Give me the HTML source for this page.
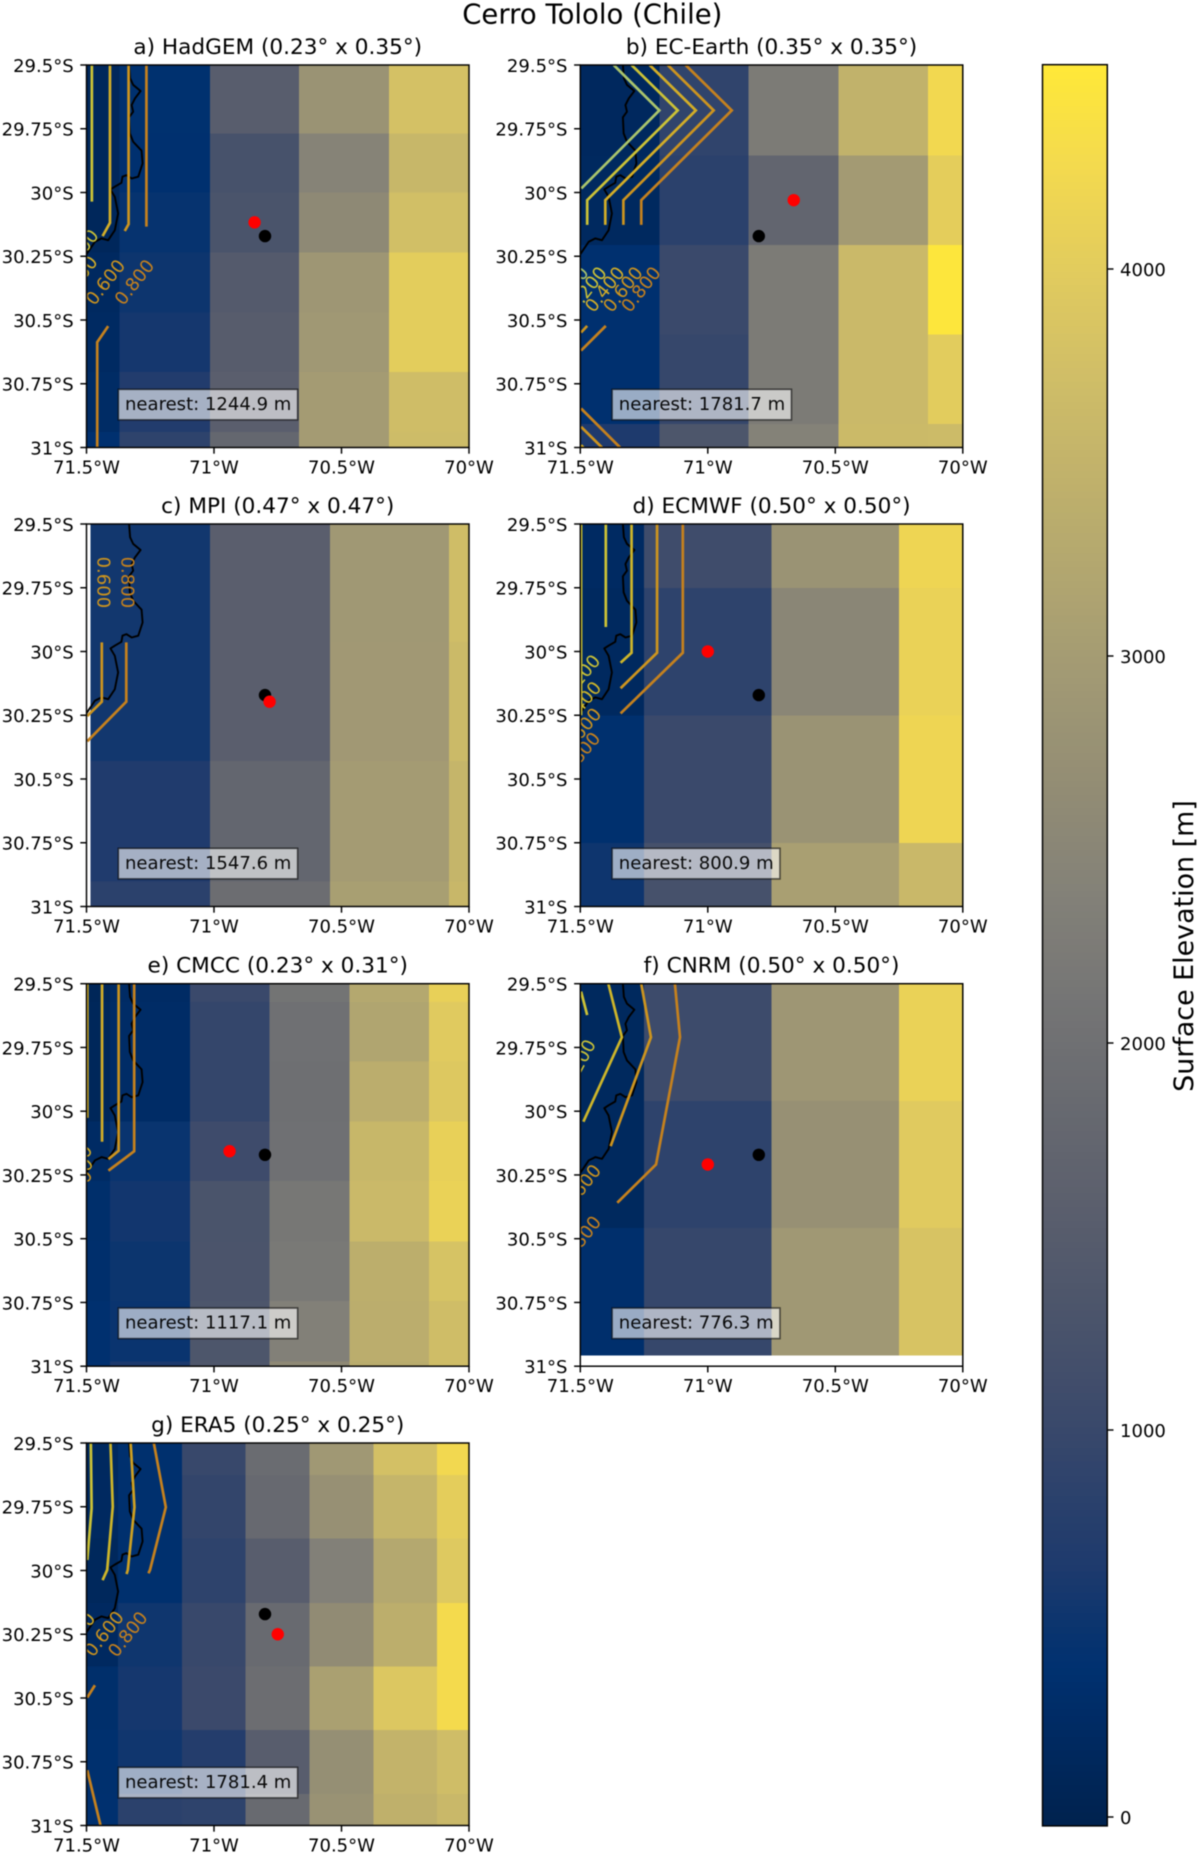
<!DOCTYPE html>
<html lang="en">
<head>
<meta charset="utf-8">
<title>Cerro Tololo (Chile) surface elevation</title>
<style>
html,body{margin:0;padding:0;background:#fff;}
svg{display:block;font-family:"DejaVu Sans","Liberation Sans",sans-serif;filter:blur(0.4px);}
</style>
</head>
<body>
<svg id="figure" xmlns="http://www.w3.org/2000/svg" width="1200" height="1856" viewBox="0 0 1200 1856">
  <rect x="0" y="0" width="1200" height="1856" fill="#ffffff"/>
  <text x="592.3" y="23.5" font-size="27.5" text-anchor="middle" fill="#000">Cerro Tololo (Chile)</text>
  <g id="panels"></g>
  <g id="colorbar"></g>
  <text transform="translate(1193,946) rotate(-90)" font-size="26.9" text-anchor="middle" fill="#000">Surface Elevation [m]</text>
</svg>
<script>
/* ---------- shared axis values ---------- */
const lonTicks = [-71.5, -71, -70.5, -70];
const lonTickLabels = ['71.5°W', '71°W', '70.5°W', '70°W'];
const latTicks = [29.5, 29.75, 30, 30.25, 30.5, 30.75, 31];
const latTickLabels = ['29.5°S', '29.75°S', '30°S', '30.25°S', '30.5°S', '30.75°S', '31°S'];
const cbarTicks = [0, 1000, 2000, 3000, 4000];
const cbarMin = -23;
const cbarMax = 4528;

/* ---------- cividis colour table ---------- */
const cmapStops = [0, .059, .09, .118, .147, .176, .235, .294, .353, .412, .47, .529, .588, .647, .706, .765, .824, .882, .941, 1];
const cmapR = [0, 0, 0, 13, 30, 39, 60, 76, 91, 104, 117, 131, 146, 160, 176, 192, 208, 225, 243, 255];
const cmapG = [34, 43, 49, 53, 58, 63, 74, 85, 95, 106, 117, 129, 140, 152, 165, 177, 190, 203, 217, 233];
const cmapB = [78, 100, 112, 110, 109, 108, 107, 107, 109, 112, 117, 120, 116, 116, 112, 107, 103, 94, 79, 56];

/* ---------- station and nearest grid point ---------- */
const stationLon = -70.80;
const stationLat = 30.171;

/* ---------- coastline ---------- */
const coastLon = [-71.333, -71.329, -71.317, -71.288, -71.310, -71.323, -71.317, -71.333, -71.330, -71.317, -71.284, -71.280, -71.297, -71.323, -71.343, -71.359, -71.363, -71.389, -71.406, -71.389, -71.376, -71.389, -71.415, -71.441, -71.467, -71.5];
const coastLat = [29.5, 29.552, 29.578, 29.602, 29.631, 29.657, 29.683, 29.705, 29.768, 29.801, 29.836, 29.886, 29.938, 29.945, 29.932, 29.938, 29.962, 29.977, 29.988, 30.017, 30.082, 30.148, 30.187, 30.180, 30.193, 30.242];

/* ---------- a) HadGEM ---------- */
const hadgemLonEdges = [-71.5, -71.37, -71.016, -70.666, -70.314, -70];
const hadgemLatEdges = [29.5, 29.768, 30, 30.236, 30.47, 30.704, 30.94, 31];
const hadgemElev = [
  [130, 130, 135, 200, 215, 260, 370],
  [380, 370, 450, 510, 580, 710, 868],
  [1530, 1231, 1281, 1460, 1512, 1565, 1770],
  [2806, 2440, 2582, 2884, 2922, 2989, 2989],
  [3789, 3575, 3743, 4021, 4021, 3710, 3676]
];
const hadgemRed = [-70.841, 30.117];
const hadgemNearest = '1244.9';
const hadgemContours = [
  {level: .2, lon: [-71.479, -71.479], lat: [29.5, 30.036]},
  {level: .4, lon: [-71.408, -71.408, -71.437], lat: [29.5, 30.119, 30.171]},
  {level: .6, lon: [-71.335, -71.335, -71.35], lat: [29.5, 30.124, 30.151]},
  {level: .8, lon: [-71.265, -71.265], lat: [29.5, 30.134]},
  {level: .8, lon: [-71.415, -71.458, -71.458], lat: [30.524, 30.587, 31]}
];
const hadgemLabels = [
  {level: .2, lon: -71.531, lat: 30.233, rot: -52},
  {level: .4, lon: -71.535, lat: 30.337, rot: -52},
  {level: .6, lon: -71.427, lat: 30.351, rot: -52},
  {level: .8, lon: -71.313, lat: 30.351, rot: -52}
];

/* ---------- b) EC-Earth ---------- */
const ecearthLonEdges = [-71.5, -71.19, -70.84, -70.487, -70.136, -70];
const ecearthLatEdges = [29.5, 29.854, 30.206, 30.556, 30.907, 31];
const ecearthElev = [
  [170, 185, 370, 370, 650],
  [893, 830, 1020, 970, 1333],
  [2250, 1730, 2250, 2250, 2404],
  [3475, 2972, 3625, 3625, 3642],
  [4245, 4036, 4480, 4006, 3660]
];
const ecearthRed = [-70.663, 30.03];
const ecearthNearest = '1781.7';
const ecearthContours = [
  {level: 0, lon: [-71.369, -71.19, -71.496], lat: [29.5, 29.678, 29.984]},
  {level: .2, lon: [-71.299, -71.118, -71.473, -71.473], lat: [29.5, 29.678, 30.03, 30.127]},
  {level: .4, lon: [-71.228, -71.047, -71.402, -71.402], lat: [29.5, 29.678, 30.03, 30.127]},
  {level: .6, lon: [-71.157, -70.977, -71.331, -71.331], lat: [29.5, 29.678, 30.03, 30.127]},
  {level: .8, lon: [-71.087, -70.906, -71.261, -71.261], lat: [29.5, 29.678, 30.03, 30.127]},
  {level: .6, lon: [-71.497, -71.473], lat: [30.549, 30.523]},
  {level: .8, lon: [-71.497, -71.40], lat: [30.62, 30.523]},
  {level: .8, lon: [-71.497, -71.344], lat: [30.847, 31]},
  {level: .6, lon: [-71.497, -71.415], lat: [30.919, 31]},
  {level: .4, lon: [-71.497, -71.488], lat: [30.991, 31]}
];
const ecearthLabels = [
  {level: 0, lon: -71.546, lat: 30.379, rot: -52},
  {level: .2, lon: -71.475, lat: 30.379, rot: -52},
  {level: .4, lon: -71.405, lat: 30.379, rot: -52},
  {level: .6, lon: -71.334, lat: 30.379, rot: -52},
  {level: .8, lon: -71.263, lat: 30.379, rot: -52}
];

/* ---------- c) MPI ---------- */
const mpiLonEdges = [-71.484, -71.016, -70.546, -70.078, -70];
const mpiLatEdges = [29.5, 29.963, 30.43, 30.901, 31];
const mpiElev = [
  [555, 555, 670, 825],
  [1565, 1565, 1750, 1930],
  [2922, 2930, 2989, 3056],
  [3710, 3642, 3540, 3590]
];
const mpiRed = [-70.782, 30.197];
const mpiNearest = '1547.6';
const mpiContours = [
  {level: .6, lon: [-71.44, -71.44, -71.497], lat: [29.964, 30.197, 30.253]},
  {level: .8, lon: [-71.344, -71.344, -71.497], lat: [29.964, 30.197, 30.352]}
];
const mpiLabels = [
  {level: .4, lon: -71.523, lat: 29.729, rot: 90},
  {level: .6, lon: -71.432, lat: 29.729, rot: 90},
  {level: .8, lon: -71.337, lat: 29.729, rot: 90}
];

/* ---------- d) ECMWF ---------- */
const ecmwfLonEdges = [-71.5, -71.25, -70.75, -70.25, -70];
const ecmwfLatEdges = [29.5, 29.75, 30.25, 30.75, 31];
const ecmwfElev = [
  [225, 190, 360, 520],
  [1096, 868, 1020, 1214],
  [2806, 2510, 2806, 3073],
  [4185, 4125, 4185, 3608]
];
const ecmwfRed = [-71.0, 30.0];
const ecmwfNearest = '800.9';
const ecmwfContours = [
  {level: .1, lon: [-71.497, -71.497], lat: [29.5, 30.25]},
  {level: .2, lon: [-71.4, -71.4], lat: [29.5, 29.904]},
  {level: .3, lon: [-71.299, -71.299, -71.342], lat: [29.5, 30.005, 30.044]},
  {level: .6, lon: [-71.199, -71.199, -71.342], lat: [29.5, 30.005, 30.144]},
  {level: .8, lon: [-71.098, -71.098, -71.342], lat: [29.5, 30.005, 30.243]}
];
const ecmwfLabels = [
  {level: .2, lon: -71.502, lat: 30.099, rot: -50},
  {level: .3, lon: -71.498, lat: 30.204, rot: -50},
  {level: .6, lon: -71.498, lat: 30.308, rot: -50},
  {level: .8, lon: -71.502, lat: 30.403, rot: -50}
];

/* ---------- e) CMCC ---------- */
const cmccLonEdges = [-71.5, -71.408, -71.094, -70.782, -70.469, -70.157, -70];
const cmccLatEdges = [29.5, 29.571, 29.805, 30.04, 30.274, 30.51, 30.745, 30.981, 31];
const cmccElev = [
  [100, 120, 120, 245, 330, 340, 370, 400],
  [245, 270, 270, 470, 550, 500, 480, 630],
  [1020, 945, 945, 1080, 1281, 1298, 1333, 1369],
  [2080, 2000, 1980, 2000, 2157, 2196, 2367, 2582],
  [3257, 3190, 3374, 3575, 3625, 3390, 3374, 3340],
  [4095, 3975, 3930, 4095, 4125, 3820, 3710, 3710]
];
const cmccRed = [-70.939, 30.157];
const cmccNearest = '1117.1';
const cmccContours = [
  {level: .4, lon: [-71.497, -71.497], lat: [29.5, 30.026]},
  {level: .4, lon: [-71.439, -71.439], lat: [29.5, 30.12]},
  {level: .6, lon: [-71.374, -71.374, -71.414], lat: [29.5, 30.155, 30.188]},
  {level: .8, lon: [-71.313, -71.313, -71.414], lat: [29.5, 30.157, 30.233]}
];
const cmccLabels = [
  {level: .4, lon: -71.555, lat: 30.218, rot: -52},
  {level: .4, lon: -71.552, lat: 30.27, rot: -52},
  {level: .6, lon: -71.555, lat: 30.316, rot: -52}
];

/* ---------- f) CNRM ---------- */
const cnrmLonEdges = [-71.5, -71.25, -70.75, -70.25, -70];
const cnrmLatEdges = [29.5, 29.96, 30.459, 30.958];
const cnrmElev = [
  [175, 175, 340],
  [1063, 868, 970],
  [2884, 2750, 2922],
  [4125, 3975, 3838]
];
const cnrmRed = [-71.0, 30.209];
const cnrmNearest = '776.3';
const cnrmContours = [
  {level: .2, lon: [-71.497, -71.473], lat: [29.531, 29.623]},
  {level: .3, lon: [-71.39, -71.337, -71.488], lat: [29.5, 29.71, 30.041]},
  {level: .6, lon: [-71.261, -71.223, -71.381], lat: [29.5, 29.71, 30.137]},
  {level: .8, lon: [-71.129, -71.109, -71.203, -71.355], lat: [29.5, 29.71, 30.209, 30.359]}
];
const cnrmLabels = [
  {level: .2, lon: -71.507, lat: 29.813, rot: -62},
  {level: .6, lon: -71.497, lat: 30.297, rot: -52},
  {level: .8, lon: -71.497, lat: 30.499, rot: -52}
];

/* ---------- g) ERA5 ---------- */
const era5LonEdges = [-71.5, -71.377, -71.126, -70.876, -70.626, -70.375, -70.125, -70];
const era5LatEdges = [29.5, 29.626, 29.875, 30.127, 30.376, 30.626, 30.876, 31];
const era5Elev = [
  [190, 200, 150, 200, 330, 360, 370],
  [360, 360, 360, 530, 580, 540, 830],
  [995, 932, 868, 995, 1033, 730, 868],
  [1893, 1830, 1530, 1852, 1930, 1530, 1852],
  [2922, 2750, 2367, 2635, 3090, 2710, 2790],
  [3775, 3540, 3257, 3390, 3915, 3508, 3440],
  [4245, 4036, 3945, 4280, 4280, 3710, 3608]
];
const era5Red = [-70.75, 30.25];
const era5Nearest = '1781.4';
const era5Contours = [
  {level: .2, lon: [-71.483, -71.48, -71.497], lat: [29.5, 29.756, 29.959]},
  {level: .3, lon: [-71.406, -71.397, -71.419, -71.437], lat: [29.5, 29.75, 29.998, 30.038]},
  {level: .5, lon: [-71.327, -71.312, -71.338, -71.343], lat: [29.5, 29.752, 29.998, 30.014]},
  {level: .8, lon: [-71.236, -71.189, -71.251, -71.257], lat: [29.5, 29.752, 29.998, 30.011]},
  {level: .8, lon: [-71.467, -71.497], lat: [30.45, 30.498]},
  {level: .8, lon: [-71.497, -71.445], lat: [30.783, 31]}
];
const era5Labels = [
  {level: .4, lon: -71.544, lat: 30.253, rot: -52},
  {level: .6, lon: -71.432, lat: 30.247, rot: -52},
  {level: .8, lon: -71.339, lat: 30.249, rot: -52}
];

const panelKeys = ['hadgem', 'ecearth', 'mpi', 'ecmwf', 'cmcc', 'cnrm', 'era5'];
const panelTitles = ['a) HadGEM (0.23° x 0.35°)', 'b) EC-Earth (0.35° x 0.35°)', 'c) MPI (0.47° x 0.47°)', 'd) ECMWF (0.50° x 0.50°)', 'e) CMCC (0.23° x 0.31°)', 'f) CNRM (0.50° x 0.50°)', 'g) ERA5 (0.25° x 0.25°)'];
const panelLonEdges = [hadgemLonEdges, ecearthLonEdges, mpiLonEdges, ecmwfLonEdges, cmccLonEdges, cnrmLonEdges, era5LonEdges];
const panelLatEdges = [hadgemLatEdges, ecearthLatEdges, mpiLatEdges, ecmwfLatEdges, cmccLatEdges, cnrmLatEdges, era5LatEdges];
const panelElev = [hadgemElev, ecearthElev, mpiElev, ecmwfElev, cmccElev, cnrmElev, era5Elev];
const panelRed = [hadgemRed, ecearthRed, mpiRed, ecmwfRed, cmccRed, cnrmRed, era5Red];
const panelNearest = [hadgemNearest, ecearthNearest, mpiNearest, ecmwfNearest, cmccNearest, cnrmNearest, era5Nearest];
const panelContours = [hadgemContours, ecearthContours, mpiContours, ecmwfContours, cmccContours, cnrmContours, era5Contours];
const panelLabels = [hadgemLabels, ecearthLabels, mpiLabels, ecmwfLabels, cmccLabels, cnrmLabels, era5Labels];

/* ---------- layout and helpers ---------- */
const NS = 'http://www.w3.org/2000/svg';
const AX = 382.5;
const colLeft = [86.5, 580.3];
const rowTop = [65, 524, 983.7, 1443];
const TICK_FONT = 18.05;

function make(parent, tag, attrs, text) {
  const node = document.createElementNS(NS, tag);
  for (const k in attrs) node.setAttribute(k, attrs[k]);
  if (text !== undefined) node.textContent = text;
  parent.appendChild(node);
  return node;
}
function cmap(e) {
  const f = Math.max(0, Math.min(1, (e - cbarMin) / (cbarMax - cbarMin)));
  let i = 0;
  while (i < cmapStops.length - 2 && f > cmapStops[i + 1]) i++;
  const t = (f - cmapStops[i]) / (cmapStops[i + 1] - cmapStops[i]);
  const mix = a => Math.round(a[i] + (a[i + 1] - a[i]) * t);
  return 'rgb(' + mix(cmapR) + ',' + mix(cmapG) + ',' + mix(cmapB) + ')';
}
function contourColor(level) {
  if (level < .1) return '#a9c46c';
  if (level < .25) return '#cbc237';
  if (level < .35) return '#cdb52a';
  if (level < .45) return '#d2ad28';
  if (level < .55) return '#cda023';
  if (level < .7) return '#cc941f';
  return '#c5811e';
}
function labelText(level) {
  const v = level === .3 ? .4 : level === .1 ? 0 : level === .5 ? .6 : level;
  return v.toFixed(3);
}
function cbarY(e) {
  return 1817 - e * 0.387;
}

/* ---------- draw panels ---------- */
const panelsRoot = document.getElementById('panels');
const defs = make(panelsRoot, 'defs', {});

panelKeys.forEach((key, p) => {
  const left = colLeft[p % 2];
  const top = rowTop[Math.floor(p / 2)];
  const xScale = lon => left + (lon + 71.5) / 1.5 * AX;
  const yScale = lat => top + (lat - 29.5) / 1.5 * AX;

  const clip = make(defs, 'clipPath', {id: 'clip-' + key});
  make(clip, 'rect', {x: left, y: top, width: AX, height: AX});

  const g = make(panelsRoot, 'g', {});
  
  

  const title = make(g, 'text', {x: left + AX / 2, y: top - 11, 'font-size': 21.6, 'text-anchor': 'middle', fill: '#000'}, panelTitles[p]);
  
  

  const mapArea = make(g, 'g', {'clip-path': 'url(#clip-' + key + ')'});
  
  

  /* heatmap cells */
  const lonE = panelLonEdges[p];
  const latE = panelLatEdges[p];
  panelElev[p].forEach((column, c) => {
    column.forEach((value, r) => {
      const x0 = xScale(lonE[c]), x1 = xScale(lonE[c + 1]);
      const y0 = yScale(latE[r]), y1 = yScale(latE[r + 1]);
      const cell = make(mapArea, 'rect', {x: x0, y: y0, width: x1 - x0, height: y1 - y0, fill: cmap(value), 'shape-rendering': 'crispEdges'});
      
      
    });
  });

  /* coastline */
  const coastPts = coastLon.map((lon, i) => xScale(lon).toFixed(2) + ',' + yScale(coastLat[i]).toFixed(2)).join(' ');
  const coast = make(mapArea, 'polyline', {points: coastPts, fill: 'none', stroke: '#000', 'stroke-width': 1.9, 'stroke-linejoin': 'round'});
  
  

  /* contour lines */
  panelContours[p].forEach(line => {
    const pts = line.lon.map((lon, i) => xScale(lon).toFixed(2) + ',' + yScale(line.lat[i]).toFixed(2)).join(' ');
    const poly = make(mapArea, 'polyline', {points: pts, fill: 'none', stroke: contourColor(line.level), 'stroke-width': 2.7});
    
    
  });

  /* contour labels */
  panelLabels[p].forEach(lab => {
    const cx = xScale(lab.lon), cy = yScale(lab.lat);
    const t = make(mapArea, 'text', {x: 0, y: 0, dy: '0.36em', transform: 'translate(' + cx + ',' + cy + ') rotate(' + lab.rot + ')', 'font-size': TICK_FONT, 'text-anchor': 'middle', fill: contourColor(lab.level)}, labelText(lab.level));
    
    
  });

  /* markers */
  const station = make(mapArea, 'circle', {cx: xScale(stationLon), cy: yScale(stationLat), r: 6.2, fill: '#000'});
  
  
  const nearest = make(mapArea, 'circle', {cx: xScale(panelRed[p][0]), cy: yScale(panelRed[p][1]), r: 6.2, fill: '#ff0000'});
  
  

  /* annotation box */
  const boxGroup = make(g, 'g', {});
  
  
  const box = make(boxGroup, 'rect', {x: left + 31.8, y: top + AX - 58.2, height: 30.6, width: 170, fill: '#fff', 'fill-opacity': .6, stroke: '#000', 'stroke-opacity': .6, 'stroke-width': 1.6});
  
  
  const txt = make(boxGroup, 'text', {x: left + 38.5, y: top + AX - 37.5, 'font-size': TICK_FONT, fill: '#000', 'fill-opacity': .95}, 'nearest: ' + panelNearest[p] + ' m');
  
  
  box.setAttribute('width', txt.getComputedTextLength() + 13);

  /* frame */
  const frame = make(g, 'rect', {x: left, y: top, width: AX, height: AX, fill: 'none', stroke: '#000', 'stroke-width': 1.45});
  
  

  /* x axis */
  lonTicks.forEach((lon, i) => {
    const x = xScale(lon);
    const tick = make(g, 'line', {x1: x, x2: x, y1: top + AX, y2: top + AX + 6.2, stroke: '#000', 'stroke-width': 1.45});
    
    
    const label = make(g, 'text', {x: x, y: top + AX + 25.8, 'font-size': TICK_FONT, 'text-anchor': 'middle', fill: '#000'}, lonTickLabels[i]);
    
    
  });

  /* y axis */
  latTicks.forEach((lat, i) => {
    const y = yScale(lat);
    const tick = make(g, 'line', {x1: left - 6.2, x2: left, y1: y, y2: y, stroke: '#000', 'stroke-width': 1.45});
    
    
    const label = make(g, 'text', {x: left - 12.8, y: y + 6.8, 'font-size': TICK_FONT, 'text-anchor': 'end', fill: '#000'}, latTickLabels[i]);
    
    
  });
});

/* ---------- draw colorbar ---------- */
const cbarRoot = document.getElementById('colorbar');
const CB_LEFT = 1042.5;
const CB_W = 64.8;
const cbarSteps = 256;
for (let i = 0; i < cbarSteps; i++) {
  const e0 = cbarMin + (cbarMax - cbarMin) * i / cbarSteps;
  const e1 = cbarMin + (cbarMax - cbarMin) * (i + 1) / cbarSteps;
  const seg = make(cbarRoot, 'rect', {x: CB_LEFT, y: cbarY(e1), width: CB_W, height: cbarY(e0) - cbarY(e1) + .4, fill: cmap((e0 + e1) / 2), 'shape-rendering': 'crispEdges'});
  
  
}
const cbarFrame = make(cbarRoot, 'rect', {x: CB_LEFT, y: cbarY(cbarMax), width: CB_W, height: cbarY(cbarMin) - cbarY(cbarMax), fill: 'none', stroke: '#000', 'stroke-width': 1.45});


cbarTicks.forEach(value => {
  const y = cbarY(value);
  const tick = make(cbarRoot, 'line', {x1: CB_LEFT + CB_W, x2: CB_LEFT + CB_W + 6.2, y1: y, y2: y, stroke: '#000', 'stroke-width': 1.45});
  
  
  const label = make(cbarRoot, 'text', {x: 1120, y: y + 6.8, 'font-size': TICK_FONT, fill: '#000'}, String(value));
  
  
});
</script>
</body>
</html>
